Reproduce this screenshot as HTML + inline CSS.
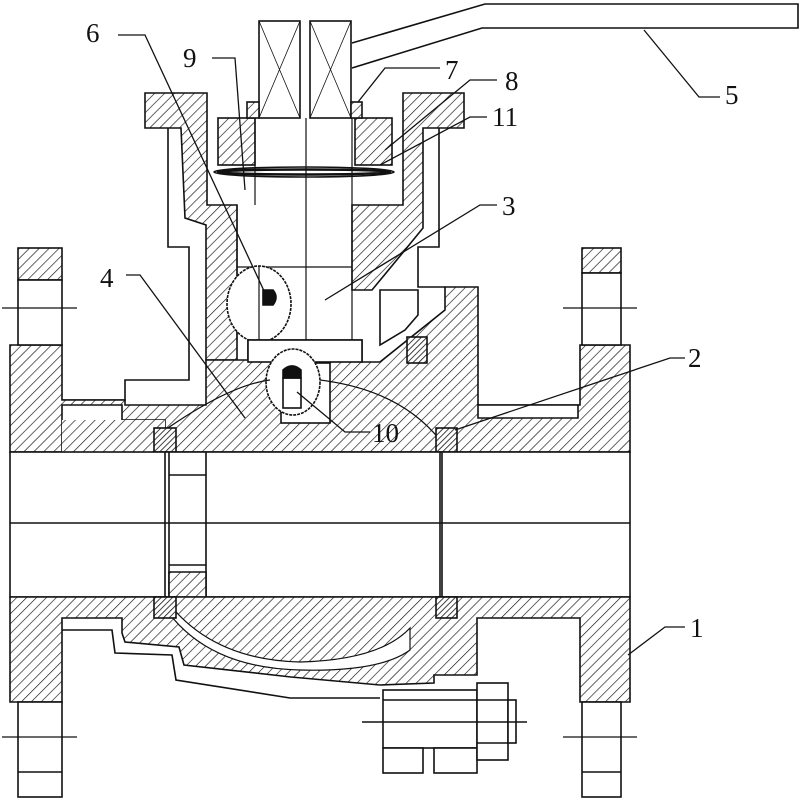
<!DOCTYPE html>
<html><head><meta charset="utf-8"><style>
html,body{margin:0;padding:0;background:#fff}
svg{display:block}
text{font-family:"Liberation Serif",serif;font-size:27px;fill:#111}
</style></head><body>
<svg width="800" height="800" viewBox="0 0 800 800" xmlns="http://www.w3.org/2000/svg">
<defs>
<pattern id="h" patternUnits="userSpaceOnUse" width="7" height="7" patternTransform="rotate(45)">
<rect width="7" height="7" fill="#fff"/>
<line x1="0" y1="0" x2="0" y2="7" stroke="#111" stroke-width="1.3"/>
</pattern>
<pattern id="h2" patternUnits="userSpaceOnUse" width="4" height="4" patternTransform="rotate(45)">
<rect width="4" height="4" fill="#fff"/>
<line x1="0" y1="0" x2="0" y2="4" stroke="#111" stroke-width="1.6"/>
</pattern>
</defs>
<g stroke="#111" stroke-width="1.6" fill="none">
<path d="M352,43 L485,4 L798,4 L798,28 L482,28 L352,68" />
<rect x="259" y="21" width="41" height="97" fill="#fff"/>
<rect x="310" y="21" width="41" height="97" fill="#fff"/>
<path d="M259,21 L300,118 M300,21 L259,118 M310,21 L351,118 M351,21 L310,118" stroke-width="0.8"/>

<path d="M168,128 L168,247 L189,247 L189,380 L125,380 L125,400 L62,400"/>
<path d="M439,128 L439,247 L418,247 L418,287 L445,287"/>

<polygon fill="url(#h)" points="145,93 207,93 207,205 237,205 237,360 206,360 206,225 185,218 181,128 145,128"/>
<polygon fill="url(#h)" points="403,93 464,93 464,128 423,128 423,228 405,250 372,290 352,290 352,205 403,205"/>
<rect x="218" y="118" width="37" height="47" fill="url(#h)"/>
<rect x="355" y="118" width="37" height="47" fill="url(#h)"/>
<rect x="247" y="102" width="12" height="16" fill="url(#h)"/>
<rect x="351" y="102" width="11" height="16" fill="url(#h)"/>
<ellipse cx="304" cy="172" rx="90" ry="5"/>
<ellipse cx="304" cy="172" rx="86" ry="2.5" stroke-width="2.5"/>
<path d="M255,118 L255,205 M306,118 L306,342 M352,118 L352,340 M237,205 L237,340 M237,267 L352,267" stroke-width="1.2"/>
<ellipse cx="259" cy="304" rx="32" ry="38" fill="#fff" stroke-dasharray="3,1"/>
<line x1="259" y1="266" x2="259" y2="342" stroke-width="1.2"/>
<path d="M263,290 L273,290 Q279,297 273,305 L263,305 Z" fill="#111"/>

<polygon fill="url(#h)" points="10,345 62,345 62,400 125,400 125,405 206,405 206,360 248,360 248,340 362,340 362,362 380,362 445,310 445,287 478,287 478,405 580,405 580,345 630,345 630,452 10,452"/>
<rect x="281" y="363" width="49" height="60" fill="#fff"/>
<rect x="248" y="340" width="114" height="22" fill="#fff"/>
<polygon fill="#fff" points="62,405 122,405 122,420 165,420 165,452 62,452" />
<rect x="62" y="420" width="103" height="32" fill="url(#h)" stroke="none"/>
<polygon fill="#fff" points="478,405 578,405 578,418 478,418"/>
<polygon fill="#fff" points="380,290 418,290 418,315 405,330 380,345"/>
<rect x="407" y="337" width="20" height="26" fill="url(#h2)"/>
<ellipse cx="293" cy="382" rx="27" ry="33" fill="#fff" stroke-dasharray="3,1"/>
<rect x="283" y="378" width="18" height="30" fill="#fff"/>
<path d="M283,378 L283,370 Q292,362 301,370 L301,378 Z" fill="#111"/>
<path d="M165,430 Q230,385 270,380" stroke-width="1.2"/>
<path d="M320,380 Q400,390 440,440" stroke-width="1.2"/>
<rect x="154" y="428" width="22" height="24" fill="url(#h2)"/>
<rect x="436" y="428" width="21" height="24" fill="url(#h2)"/>

<rect x="10" y="452" width="620" height="145" fill="#fff"/>
<line x1="10" y1="523" x2="630" y2="523"/>
<path d="M165,452 L165,597 M169,452 L169,597 M206,452 L206,597 M440,452 L440,597 M442,452 L442,597"/>
<path d="M169,475 L206,475 M169,565 L206,565"/>
<polygon fill="url(#h)" points="169,572 206,572 206,597 169,597"/>

<polygon fill="url(#h)" points="10,597 630,597 630,702 580,702 580,618 477,618 477,675 434,675 434,683 380,685 291,677 184,665 179,647 125,642 122,633 122,618 62,618 62,702 10,702"/>
<path d="M170,605 Q215,660 300,662 Q380,660 410,628 L410,650 Q380,672 300,670 Q210,668 168,612 Z" fill="#fff" stroke-width="1.2"/>
<rect x="154" y="597" width="22" height="21" fill="url(#h2)"/>
<rect x="436" y="597" width="21" height="21" fill="url(#h2)"/>
<path d="M62,630 L112,630 L115,653 L172,655 L176,680 L290,698 L380,698"/>
<rect x="18" y="248" width="44" height="32" fill="url(#h)"/>
<rect x="18" y="280" width="44" height="65" fill="#fff"/>
<rect x="582" y="248" width="39" height="25" fill="url(#h)"/>
<rect x="582" y="273" width="39" height="72" fill="#fff"/>
<rect x="18" y="702" width="44" height="95" fill="#fff"/>
<line x1="18" y1="772" x2="62" y2="772"/>
<rect x="582" y="702" width="39" height="95" fill="#fff"/>
<line x1="582" y1="772" x2="621" y2="772"/>
<path d="M2,308 L77,308 M563,308 L637,308 M2,737 L77,737 M563,737 L637,737" stroke-width="1.3"/>
<rect x="383" y="690" width="94" height="58" fill="#fff"/>
<line x1="383" y1="700" x2="477" y2="700"/>
<rect x="383" y="748" width="40" height="25" fill="#fff"/>
<rect x="434" y="748" width="43" height="25" fill="#fff"/>
<rect x="477" y="683" width="31" height="77" fill="#fff"/>
<path d="M477,700 L508,700 M477,743 L508,743"/>
<rect x="508" y="700" width="8" height="43" fill="#fff"/>
<line x1="362" y1="722" x2="527" y2="722"/>

<path d="M118,35 L145,35 L265,293" stroke-width="1.3"/>
<path d="M212,58 L235,58 L245,190" stroke-width="1.3"/>
<path d="M440,68 L385,68 L358,102" stroke-width="1.3"/>
<path d="M497,80 L470,80 L385,150" stroke-width="1.3"/>
<path d="M487,117 L470,117 L380,165" stroke-width="1.3"/>
<path d="M497,205 L480,205 L325,300" stroke-width="1.3"/>
<path d="M126,275 L140,275 L245,418" stroke-width="1.3"/>
<path d="M685,358 L670,358 L455,430" stroke-width="1.3"/>
<path d="M370,432 L345,432 L297,392" stroke-width="1.3"/>
<path d="M685,627 L665,627 L628,655" stroke-width="1.3"/>
<path d="M644,30 L699,97 L720,97" stroke-width="1.3"/>
</g>
<g>
<text x="86" y="42">6</text>
<text x="183" y="67">9</text>
<text x="445" y="79">7</text>
<text x="505" y="90">8</text>
<text x="492" y="126">11</text>
<text x="502" y="215">3</text>
<text x="100" y="287">4</text>
<text x="688" y="367">2</text>
<text x="372" y="442">10</text>
<text x="690" y="637">1</text>
<text x="725" y="104">5</text>
</g>
</svg>
</body></html>
